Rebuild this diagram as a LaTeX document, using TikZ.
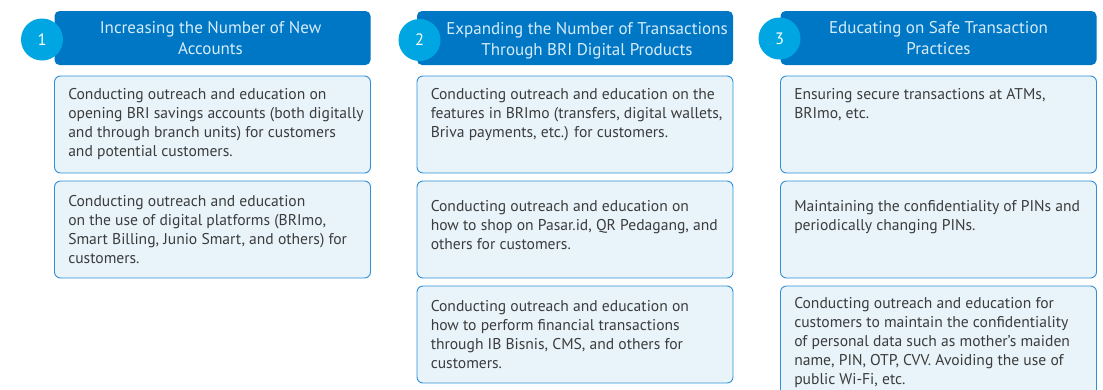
\documentclass[tikz,border=0pt]{standalone}
\usepackage{fontspec}
\setmainfont{PT Sans}
\usepackage{xcolor}
\definecolor{bridark}{RGB}{0,119,196}
\definecolor{bricyan}{RGB}{0,166,225}
\definecolor{brifill}{RGB}{232,244,250}
\definecolor{briline}{RGB}{48,143,215}
\definecolor{britext}{RGB}{60,60,60}
\definecolor{brihead}{RGB}{214,236,250}
\usetikzlibrary{positioning}

\begin{document}
\begin{tikzpicture}[x=1pt,y=-1pt,
  headbox/.style={fill=bridark,rounded corners=5pt,minimum width=316pt,minimum height=54pt,inner sep=0pt},
  headtext/.style={align=center,text=brihead,inner sep=0pt,font=\fontsize{17}{21}\selectfont},
  numdot/.style={circle,fill=bricyan,minimum size=42pt,inner sep=0pt,text=white,font=\fontsize{16.5}{19}\selectfont},
  itembox/.style={draw=briline,line width=0.9pt,fill=brifill,rounded corners=6pt,minimum width=316pt,minimum height=97pt,inner sep=0pt},
  itemtext/.style={align=left,text=britext,inner sep=0pt,font=\fontsize{15.6}{19}\selectfont}]
  \useasboundingbox (0,0) rectangle (1103,389);
  % column 1
  \node[headbox] (head1) at (212.5,38) {};
  \node[headtext] (ttl1) at ([xshift=-2pt,yshift=-0.5pt]head1.center) {Increasing the Number of New\\Accounts};
  \node[numdot] (num1) at (42,39.5) {1};
  \node[itembox] (box11) at (212.5,124.5) {};
  \node[itembox] (box12) at (212.5,229.5) {};
  \node[itemtext,below right=13pt and 14pt of box11.north west] (txt11) {Conducting outreach and education on\\opening BRI savings accounts (both digitally\\and through branch units) for customers\\and potential customers.};
  \node[itemtext,below right=15pt and 14pt of box12.north west] (txt12) {Conducting outreach and education\\on the use of digital platforms (BRImo,\\Smart Billing, Junio Smart, and others) for\\customers.};
  % column 2
  \node[headbox] (head2) at (575,38) {};
  \node[headtext] (ttl2) at ([xshift=12pt,yshift=-2.5pt]head2.center) {Expanding the Number of Transactions\\Through BRI Digital Products};
  \node[numdot] (num2) at (419.5,40) {2};
  \node[itembox] (box21) at (575,124.5) {};
  \node[itembox] (box22) at (575,229.5) {};
  \node[itembox] (box23) at (575,334.5) {};
  \node[itemtext,below right=13pt and 14pt of box21.north west] (txt21) {Conducting outreach and education on the\\features in BRImo (transfers, digital wallets,\\Briva payments, etc.) for customers.};
  \node[itemtext,below right=20pt and 14pt of box22.north west] (txt22) {Conducting outreach and education on\\how to shop on Pasar.id, QR Pedagang, and\\others for customers.};
  \node[itemtext,below right=15pt and 14pt of box23.north west] (txt23) {Conducting outreach and education on\\how to perform financial transactions\\through IB Bisnis, CMS, and others for\\customers.};
  % column 3
  \node[headbox] (head3) at (938.5,38) {};
  \node[headtext] (ttl3) at (head3.center) {Educating on Safe Transaction\\Practices};
  \node[numdot] (num3) at (779.5,38.5) {3};
  \node[itembox] (box31) at (938.5,124.5) {};
  \node[itembox] (box32) at (938.5,229.5) {};
  \node[itembox,minimum height=110pt] (box33) at (938.5,341) {};
  \node[itemtext,below right=13pt and 14pt of box31.north west] (txt31) {Ensuring secure transactions at ATMs,\\BRImo, etc.};
  \node[itemtext,below right=20pt and 14pt of box32.north west] (txt32) {Maintaining the confidentiality of PINs and\\periodically changing PINs.};
  \node[itemtext,below right=11.5pt and 14pt of box33.north west] (txt33) {Conducting outreach and education for\\customers to maintain the confidentiality\\of personal data such as mother's maiden\\name, PIN, OTP, CVV. Avoiding the use of\\public Wi-Fi, etc.};
\end{tikzpicture}
\end{document}
